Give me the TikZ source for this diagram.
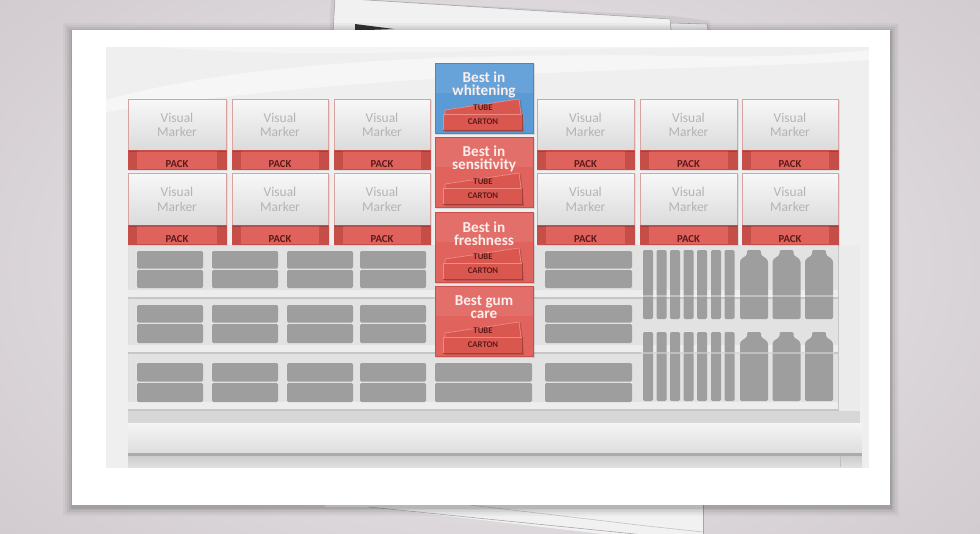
\documentclass[tikz,border=0pt]{standalone}
\usepackage{fontspec}
\setmainfont{Carlito}
\definecolor{bgin}{HTML}{EDECED}
\definecolor{bgout}{HTML}{BEB3BB}
\definecolor{paper}{HTML}{F1F1F1}
\definecolor{papedge}{HTML}{A5A5A5}
\definecolor{wall}{HTML}{EFEFEF}
\definecolor{shelfbg}{HTML}{E2E2E2}
\definecolor{lip}{HTML}{EDEDED}
\definecolor{lipdark}{HTML}{C6C6C6}
\definecolor{blk}{HTML}{9E9E9E}
\definecolor{mktop}{HTML}{F8F8F8}
\definecolor{mkbot}{HTML}{DBDBDB}
\definecolor{mkborder}{HTML}{D6A3A1}
\definecolor{mktextc}{HTML}{B4B4B4}
\definecolor{packred}{HTML}{E0625C}
\definecolor{packdark}{HTML}{C54E48}
\definecolor{packtextc}{HTML}{5B1B19}
\definecolor{bluefill}{HTML}{5B9BD5}
\definecolor{blueborder}{HTML}{4A86BF}
\definecolor{redfill}{HTML}{E0635D}
\definecolor{redborder}{HTML}{C84F4A}
\definecolor{tabred}{HTML}{DA5750}
\definecolor{tabhl}{HTML}{EF8A84}
\definecolor{headc}{HTML}{FBEEED}
\tikzset{
  blkfill/.style={fill=blk, rounded corners=1pt},
  mktext/.style={text=mktextc, align=center, inner sep=0pt,
    font=\fontsize{9.6}{10.4}\selectfont},
  packtext/.style={text=packtextc, inner sep=0pt,
    font=\bfseries\fontsize{7.6}{8}\selectfont},
  headtext/.style={text=headc, align=center, inner sep=0pt,
    font=\bfseries\fontsize{10.8}{9.3}\selectfont},
  smalltext/.style={text=packtextc, inner sep=0pt,
    font=\bfseries\fontsize{6.2}{7}\selectfont},
}
\begin{document}
\begin{tikzpicture}[x=0.25mm,y=-0.25mm]
\useasboundingbox (0,0) rectangle (980,533);
\clip (0,0) rectangle (980,533);
% background
\shade[inner color=bgin, outer color=bgout] (-630,-450) rectangle (1610,983);
% papers behind, top
\fill[black, opacity=0.06] (331,-2) -- (672,16) -- (710,21) -- (712,40) -- (329,40) -- cycle;
\fill[paper] (335,-2) -- (670,19) -- (672,40) -- (333,40) -- cycle;
\fill[paper!97!black] (671,23) -- (707,24) -- (709,40) -- (672,40) -- cycle;
\draw[papedge, line width=0.4pt] (333,32) -- (335,-2) -- (670,19) -- (671,30);
\draw[papedge, line width=0.4pt] (671,23) -- (707,24) -- (708,30);
\fill[black!80] (355,24) -- (394,29) -- (355,30.5) -- cycle;
% papers behind, bottom
\fill[paper] (325,500) -- (703,500) -- (703,540) -- (655,540) -- (369,507) -- (325,507) -- cycle;
\draw[papedge, line width=0.4pt] (369,507) -- (655,536);
\draw[papedge!70!white, line width=0.4pt] (470,505) -- (647,526) -- (703,532);
\draw[papedge, line width=0.4pt] (703,500) -- (703,540);
% panel shadow
\foreach \s/\o in {9/0.03,7/0.04,5/0.05,3/0.06,1.5/0.08}
  \fill[black, opacity=\o] (72-\s,30-\s+2) rectangle (890+\s,505+\s+2);
\fill[white] (72,30) rectangle (890,505);
% wall
\fill[wall] (106,47) rectangle (869,468);
\fill[white, opacity=0.45] (106,100) .. controls (240,62) and (450,52) .. (690,56)
  .. controls (780,58) and (840,53) .. (869,50) -- (869,60)
  .. controls (700,72) and (420,66) .. (106,112) -- cycle;
\fill[white, opacity=0.35] (160,47) .. controls (300,60) and (500,48) .. (760,47) -- cycle;
% shelf unit
\fill[shelfbg] (128,245) rectangle (838,412);
\fill[shelfbg!70!white] (838,245) rectangle (860,423);
\draw[lipdark, line width=0.5pt] (838,245) -- (838,423);
\draw[lipdark!60!white, line width=0.4pt] (128,245) -- (128,412);
\foreach \y in {290,345,402} {
  \fill[lip] (128,\y) rectangle (838,\y+7);
  \fill[lipdark] (128,\y+7) rectangle (838,\y+9);
}
\fill[shelfbg!95!black] (128,411) rectangle (860,423);
\shade[top color=white!96!black, bottom color=white!87!black] (128,423) rectangle (862,453);
\fill[black!33] (128,453) rectangle (862,456);
\shade[top color=white!80!black, bottom color=white!88!black] (128,456) rectangle (862,467);
\draw[black!25, line width=0.4pt] (840,456) -- (840,467);
% product blocks
\foreach \xa/\xb in {137/203,212/278,287/353,360/426,545/632}
  \foreach \ya/\yb/\yc/\yd in {251/268.5/270/288,305/322.5/324/343,363/381.5/383/402} {
    \fill[blkfill] (\xa,\ya) rectangle (\xb,\yb);
    \fill[blkfill] (\xa,\yc) rectangle (\xb,\yd);
  }
\fill[blkfill] (435,363) rectangle (532,381.5);
\fill[blkfill] (435,383) rectangle (532,402);
% thin bars
\foreach \xa in {643,656.5,670,683.5,697,711,724.5}
  \foreach \ta/\tb in {250/319,332/401}
    \fill[blkfill] (\xa,\ta) rectangle (\xa+10,\tb);
% bottles
\foreach \xa in {740,772.5,805}
  \foreach \t/\b in {250/319,332/401}
    \fill[blkfill] (\xa+7,\t) -- (\xa+21,\t) -- (\xa+21,\t+5) -- (\xa+27,\t+9)
      -- (\xa+28,\t+11) -- (\xa+28,\b) -- (\xa,\b) -- (\xa,\t+11)
      -- (\xa+1,\t+9) -- (\xa+7,\t+5) -- cycle;
\draw[white, opacity=0.35, line width=0.8pt] (641,296) -- (834,296);
\draw[white, opacity=0.35, line width=0.8pt] (641,353) -- (834,353);
% visual markers and PACK strips
\foreach \xa/\xb [count=\ci] in {128/226,232/328,334/430,537/634,640/737,742/838}
  \foreach \ya/\yb/\yc [count=\ri] in {99/150/169,173/225/244} {
    \fill[black, opacity=0.08] (\xa+1,\ya+1) rectangle (\xb+1.5,\yc+1.5);
    \shade[top color=mktop, bottom color=mkbot] (\xa,\ya) rectangle (\xb,\yb);
    \draw[mkborder, line width=0.5pt] (\xa,\yb) -- (\xa,\ya) -- (\xb,\ya) -- (\xb,\yb);
    \node[mktext] (mk\ci-\ri) at ({(\xa+\xb)/2},{(\ya+\yb)/2+0.5}) {Visual\\Marker};
    \fill[packred] (\xa,\yb) rectangle (\xb,\yc);
    \fill[packdark] (\xa,\yb) rectangle (\xa+9,\yc);
    \fill[packdark] (\xb-9,\yb) rectangle (\xb,\yc);
    \fill[black, opacity=0.18] (\xa,\yb) rectangle (\xb,\yb+1.5);
    \draw[packdark, line width=0.4pt] (\xa,\yb) rectangle (\xb,\yc);
    \node[packtext, anchor=base] (pk\ci-\ri) at ({(\xa+\xb)/2},\yc-1.5) {PACK};
  }
% center column boxes
\foreach \yo/\fc/\bc/\txt [count=\k] in {63/bluefill/blueborder/{Best in\\whitening},
    137/redfill/redborder/{Best in\\sensitivity},
    212/redfill/redborder/{Best in\\freshness},
    286/redfill/redborder/{Best gum\\care}} {
  \fill[black, opacity=0.10] (436,\yo+1) rectangle (534.5,\yo+71.5);
  \fill[\fc] (435,\yo) rectangle (533,\yo+70);
  \fill[white, opacity=0.08] (435,\yo) rectangle (533,\yo+30);
  \draw[\bc, line width=0.5pt] (435,\yo) rectangle (533,\yo+70);
  \node[headtext] (hd\k) at (484,\yo+21.5) {\txt};
  \fill[black, opacity=0.15] (446,\yo+48) -- (521,\yo+37) -- (524,\yo+69) -- (445,\yo+69) -- cycle;
  \fill[tabred] (445,\yo+47) -- (519,\yo+36) -- (521,\yo+51) -- (445,\yo+51) -- cycle;
  \draw[tabhl, line width=0.5pt] (445,\yo+51) -- (445,\yo+47) -- (519,\yo+36) -- (521,\yo+51);
  \fill[tabred] (443,\yo+51) rectangle (522,\yo+67);
  \draw[tabhl, line width=0.5pt] (443,\yo+67) -- (443,\yo+51) -- (522,\yo+51);
  \draw[redborder!80!black, line width=0.5pt] (443,\yo+67) -- (522,\yo+67) -- (522,\yo+51);
  \node[smalltext] (tb\k) at (483,\yo+45) {TUBE};
  \node[smalltext] (ct\k) at (483,\yo+59) {CARTON};
}
\end{tikzpicture}
\end{document}
